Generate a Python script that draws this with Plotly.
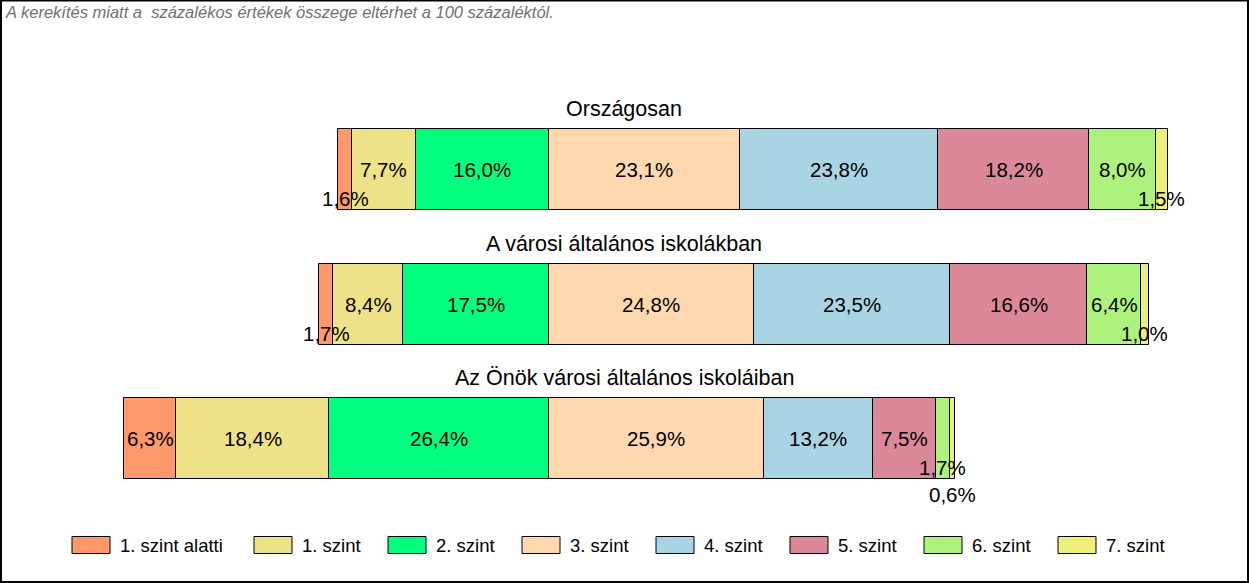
import plotly.graph_objects as go

# ---------------- data ----------------
rows = ["Országosan", "A városi általános iskolákban", "Az Önök városi általános iskoláiban"]
levels = ["1. szint alatti", "1. szint", "2. szint", "3. szint", "4. szint", "5. szint", "6. szint", "7. szint"]
v_below1 = [1.6, 1.7, 6.3]
v_lvl1 = [7.7, 8.4, 18.4]
v_lvl2 = [16.0, 17.5, 26.4]
v_lvl3 = [23.1, 24.8, 25.9]
v_lvl4 = [23.8, 23.5, 13.2]
v_lvl5 = [18.2, 16.6, 7.5]
v_lvl6 = [8.0, 6.4, 1.7]
v_lvl7 = [1.5, 1.0, 0.6]
note = "A kerekítés miatt a  százalékos értékek összege eltérhet a 100 százaléktól."

series = [v_below1, v_lvl1, v_lvl2, v_lvl3, v_lvl4, v_lvl5, v_lvl6, v_lvl7]
n_left = 3  # levels drawn to the left of zero

# ---------------- style ----------------
colors = ["#FF996B", "#EEE288", "#00FF7F", "#FFD8B0", "#A8D4E4", "#DB8899", "#ADF27C", "#EEEE7C"]
FONT = "Liberation Sans, Arial, sans-serif"
W, H = 1250, 583
PX_PER_PCT = 8.305
ZERO_PX = 548.5
ROW0_PX = 169.8
ROW_STEP_PX = 134.5
BAR_PX = 81
legend_left_px = [72, 254, 388, 522, 656, 790, 924, 1058]
legend_y_px = 545

fig = go.Figure()

y_pos = list(range(len(rows)))
left_total = [sum(s[i] for s in series[:n_left]) for i in range(len(rows))]
bases = [[-left_total[i] + sum(s[i] for s in series[:k]) for i in range(len(rows))] for k in range(len(series))]

for k, (name, vals) in enumerate(zip(levels, series)):
    fig.add_trace(go.Bar(
        y=y_pos, x=vals, base=bases[k], orientation="h", name=name,
        width=BAR_PX / ROW_STEP_PX,
        marker=dict(color=colors[k], line=dict(color="black", width=1)),
        showlegend=False, hoverinfo="skip",
    ))

annotations = []
# value labels
for i in range(len(rows)):
    stack_small = 0
    for k, vals in enumerate(series):
        v = vals[i]
        cx = bases[k][i] + v / 2
        txt = f"{v:.1f}".replace(".", ",") + "%"
        if v < 3:
            yshift = -29 - 27 * stack_small
            stack_small += 1
        else:
            yshift = 0
            stack_small = 0
        annotations.append(dict(x=cx, y=y_pos[i], xref="x", yref="y", text=txt, showarrow=False,
                                yshift=yshift, font=dict(family=FONT, size=20.5, color="black"),
                                xanchor="center", yanchor="middle"))
# row titles
for i, t in enumerate(rows):
    annotations.append(dict(x=624 / W, y=y_pos[i] - 0.45, xref="paper", yref="y", text=t, showarrow=False,
                            font=dict(family=FONT, size=21.5, color="black"), xanchor="center", yanchor="middle"))
# note
annotations.append(dict(x=3 / W, y=1 - 1 / H, xref="paper", yref="paper", text=f"<i>{note}</i>", showarrow=False,
                        font=dict(family=FONT, size=16.5, color="#707070"), xanchor="left", yanchor="top"))

shapes = []
# legend (manual, wide boxes)
for k, name in enumerate(levels):
    x0 = legend_left_px[k]
    shapes.append(dict(type="rect", xref="paper", yref="paper",
                       x0=x0 / W, x1=(x0 + 38) / W,
                       y0=1 - (legend_y_px + 8.5) / H, y1=1 - (legend_y_px - 8.5) / H,
                       fillcolor=colors[k], line=dict(color="black", width=1)))
    annotations.append(dict(x=(x0 + 46) / W, y=1 - legend_y_px / H, xref="paper", yref="paper", text=name,
                            showarrow=False, font=dict(family=FONT, size=18.5, color="black"),
                            xanchor="left", yanchor="middle"))
# outer frame
shapes.append(dict(type="rect", xref="paper", yref="paper", x0=1 / W, x1=1248 / W, y0=1 - 582 / H, y1=1 - 0.5 / H,
                   fillcolor="rgba(0,0,0,0)", line=dict(color="black", width=2)))

fig.update_layout(
    width=W, height=H, margin=dict(l=0, r=0, t=0, b=0),
    paper_bgcolor="white", plot_bgcolor="white",
    barmode="overlay", bargap=0,
    xaxis=dict(range=[-ZERO_PX / PX_PER_PCT, (W - ZERO_PX) / PX_PER_PCT], visible=False, fixedrange=True),
    yaxis=dict(range=[(H - ROW0_PX) / ROW_STEP_PX, -ROW0_PX / ROW_STEP_PX], visible=False, fixedrange=True),
    annotations=annotations, shapes=shapes, showlegend=False,
)

fig.write_html("out.html")
